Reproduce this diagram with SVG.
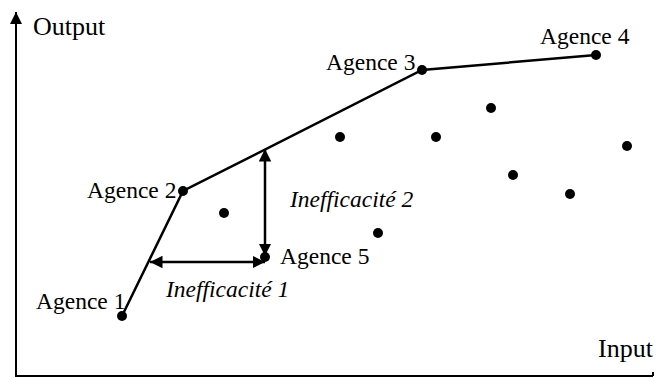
<svg xmlns="http://www.w3.org/2000/svg" width="656" height="378" viewBox="0 0 656 378">
<style>
text{font-family:"Liberation Serif","Times New Roman",serif;font-size:23.5px;fill:#000}
.big{font-size:26px}
.it{font-style:italic}
.ln{stroke:#000;stroke-width:2.5;fill:none}
.ax{stroke:#000;stroke-width:2;fill:none}
.dot{fill:#000}
</style>
<defs>
<marker id="ah" viewBox="0 0 10 10" refX="10" refY="5" markerWidth="5" markerHeight="5" orient="auto-start-reverse" markerUnits="strokeWidth">
<path d="M0,0 L10,5 L0,10 z" fill="#000"/>
</marker>
<marker id="axh" viewBox="0 0 10 10" refX="10" refY="5" markerWidth="6" markerHeight="6" orient="auto" markerUnits="strokeWidth">
<path d="M0,0 L10,5 L0,10 z" fill="#000"/>
</marker>
</defs>
<g id="axes">
<line class="ax" x1="16" y1="377" x2="16" y2="12" marker-end="url(#axh)"/>
<line class="ax" x1="15" y1="376" x2="653" y2="376"/>
<line class="ax" x1="653" y1="376" x2="653" y2="372" stroke-width="1"/>
<text class="big" x="33" y="35">Output</text>
<text class="big" x="653" y="357" text-anchor="end">Input</text>
</g>
<g id="connectors">
<polyline class="ln" points="122,316 183,191 422,70 596,55"/>
<line class="ln" x1="265" y1="256" x2="265" y2="149" stroke-width="2" marker-start="url(#ah)" marker-end="url(#ah)"/>
<line class="ln" x1="150" y1="262" x2="265" y2="262" stroke-width="2" marker-start="url(#ah)" marker-end="url(#ah)"/>
</g>
<g id="agence1"><circle class="dot" cx="122" cy="316" r="5"/><text x="36" y="309">Agence 1</text></g>
<g id="agence2"><circle class="dot" cx="183" cy="191" r="5"/><text x="87" y="198">Agence 2</text></g>
<g id="agence3"><circle class="dot" cx="422" cy="70" r="5"/><text x="326" y="70">Agence 3</text></g>
<g id="agence4"><circle class="dot" cx="596" cy="55" r="5"/><text x="540" y="44">Agence 4</text></g>
<g id="agence5"><circle class="dot" cx="265" cy="257" r="5"/><text x="280" y="264">Agence 5</text></g>
<g id="ineff2"><text class="it" x="290" y="207">Inefficacité 2</text></g>
<g id="ineff1"><text class="it" x="166" y="297">Inefficacité 1</text></g>
<g id="others">
<circle class="dot" cx="224" cy="213" r="5"/>
<circle class="dot" cx="378" cy="233" r="5"/>
<circle class="dot" cx="340" cy="137" r="5"/>
<circle class="dot" cx="436" cy="137" r="5"/>
<circle class="dot" cx="491" cy="108" r="5"/>
<circle class="dot" cx="513" cy="175" r="5"/>
<circle class="dot" cx="570" cy="194" r="5"/>
<circle class="dot" cx="627" cy="146" r="5"/>
</g>
</svg>
